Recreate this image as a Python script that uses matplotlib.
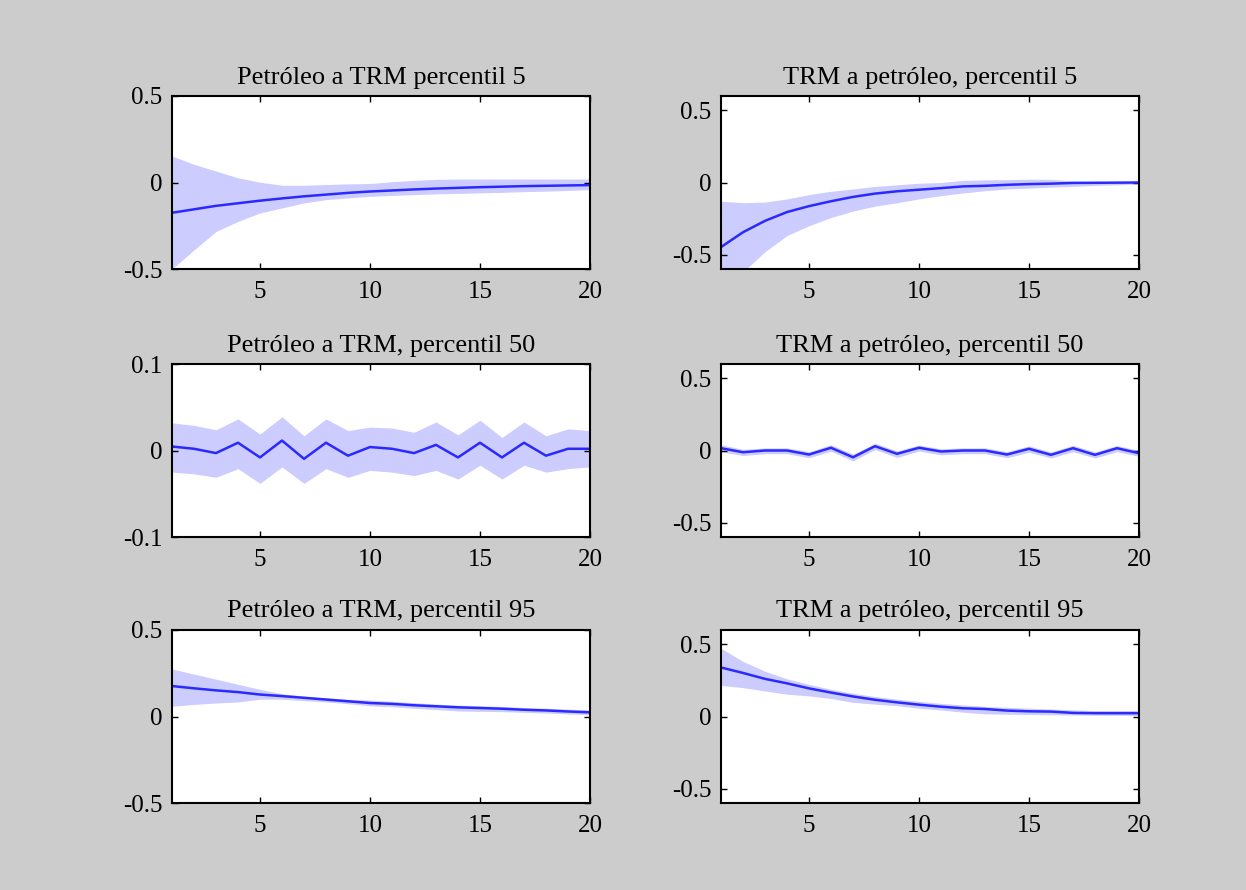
import numpy as np
import matplotlib
matplotlib.use("Agg")
import matplotlib.pyplot as plt

plt.rcParams['font.family'] = ['Liberation Serif', 'DejaVu Serif']

horizon = list(range(1, 21))

titles = [
    "Petróleo a TRM percentil 5",
    "TRM a petróleo, percentil 5",
    "Petróleo a TRM, percentil 50",
    "TRM a petróleo, percentil 50",
    "Petróleo a TRM, percentil 95",
    "TRM a petróleo, percentil 95",
]

# petroleo -> TRM, percentil 5
p5_oil_mid = [-0.175, -0.155, -0.135, -0.12, -0.105, -0.092, -0.08, -0.07, -0.06, -0.052,
              -0.046, -0.04, -0.035, -0.031, -0.027, -0.024, -0.021, -0.019, -0.017, -0.015]
p5_oil_up = [0.153, 0.105, 0.066, 0.027, 0.002, -0.016, -0.016, -0.012, -0.008, -0.006,
             0.005, 0.012, 0.018, 0.02, 0.02, 0.02, 0.02, 0.02, 0.02, 0.02]
p5_oil_lo = [-0.5, -0.39, -0.283, -0.225, -0.176, -0.147, -0.118, -0.099, -0.089, -0.08,
             -0.075, -0.07, -0.066, -0.063, -0.06, -0.057, -0.053, -0.05, -0.046, -0.041]

# TRM -> petroleo, percentil 5
p5_trm_mid = [-0.448, -0.345, -0.266, -0.205, -0.164, -0.13, -0.10, -0.077, -0.061, -0.05,
              -0.039, -0.027, -0.023, -0.016, -0.011, -0.008, -0.003, -0.002, -0.001, 0.0]
p5_trm_up = [-0.13, -0.14, -0.136, -0.114, -0.084, -0.061, -0.045, -0.027, -0.016, -0.005,
             0.0, 0.015, 0.018, 0.02, 0.023, 0.022, 0.01, 0.008, 0.005, 0.005]
p5_trm_lo = [-0.85, -0.62, -0.48, -0.368, -0.30, -0.243, -0.198, -0.164, -0.141, -0.114,
             -0.091, -0.073, -0.057, -0.045, -0.039, -0.032, -0.027, -0.02, -0.016, -0.011]

# petroleo -> TRM, percentil 50
p50_oil_mid = [0.0046, 0.002, -0.003, 0.009, -0.008, 0.0115, -0.0096, 0.009, -0.006, 0.004,
               0.002, -0.003, 0.0065, -0.008, 0.009, -0.008, 0.009, -0.006, 0.002, 0.002]
p50_oil_up = [0.032, 0.029, 0.024, 0.0365, 0.019, 0.039, 0.017, 0.0365, 0.023, 0.027,
              0.026, 0.021, 0.033, 0.018, 0.035, 0.015, 0.033, 0.017, 0.025, 0.023]
p50_oil_lo = [-0.025, -0.027, -0.031, -0.021, -0.038, -0.019, -0.038, -0.021, -0.031, -0.023,
              -0.025, -0.029, -0.023, -0.033, -0.017, -0.033, -0.017, -0.025, -0.021, -0.019]

# TRM -> petroleo, percentil 50
p50_trm_mid = [0.016, -0.012, 0.0, 0.0, -0.028, 0.019, -0.047, 0.03, -0.023, 0.019,
               -0.007, 0.0, 0.0, -0.028, 0.012, -0.03, 0.016, -0.03, 0.016, -0.019]
p50_trm_up = [0.04, 0.008, 0.018, 0.018, -0.008, 0.04, -0.025, 0.05, -0.003, 0.038,
              0.012, 0.018, 0.018, -0.008, 0.032, -0.01, 0.036, -0.01, 0.035, 0.0]
p50_trm_lo = [-0.008, -0.035, -0.022, -0.022, -0.05, -0.005, -0.072, 0.006, -0.048, -0.004,
              -0.03, -0.022, -0.022, -0.05, -0.012, -0.052, -0.008, -0.052, -0.008, -0.04]

# petroleo -> TRM, percentil 95
p95_oil_mid = [0.176, 0.163, 0.151, 0.141, 0.127, 0.118, 0.108, 0.098, 0.088, 0.078,
               0.073, 0.065, 0.059, 0.053, 0.049, 0.045, 0.039, 0.035, 0.029, 0.024]
p95_oil_up = [0.275, 0.245, 0.216, 0.186, 0.157, 0.131, 0.118, 0.108, 0.10, 0.095,
              0.088, 0.08, 0.072, 0.066, 0.062, 0.058, 0.052, 0.048, 0.043, 0.038]
p95_oil_lo = [0.059, 0.07, 0.078, 0.084, 0.1, 0.1, 0.092, 0.084, 0.074, 0.062,
              0.056, 0.048, 0.04, 0.032, 0.03, 0.028, 0.024, 0.02, 0.015, 0.01]

# TRM -> petroleo, percentil 95
p95_trm_mid = [0.34, 0.302, 0.261, 0.23, 0.195, 0.166, 0.139, 0.116, 0.098, 0.082,
               0.068, 0.057, 0.052, 0.041, 0.036, 0.034, 0.025, 0.023, 0.023, 0.023]
p95_trm_up = [0.473, 0.382, 0.314, 0.261, 0.223, 0.189, 0.161, 0.139, 0.12, 0.105,
              0.091, 0.08, 0.07, 0.064, 0.058, 0.052, 0.046, 0.041, 0.041, 0.041]
p95_trm_lo = [0.216, 0.2, 0.177, 0.155, 0.143, 0.125, 0.098, 0.086, 0.075, 0.057,
              0.045, 0.03, 0.018, 0.016, 0.014, 0.012, 0.01, 0.009, 0.008, 0.007]

series = [
    (p5_oil_mid, p5_oil_up, p5_oil_lo),
    (p5_trm_mid, p5_trm_up, p5_trm_lo),
    (p50_oil_mid, p50_oil_up, p50_oil_lo),
    (p50_trm_mid, p50_trm_up, p50_trm_lo),
    (p95_oil_mid, p95_oil_up, p95_oil_lo),
    (p95_trm_mid, p95_trm_up, p95_trm_lo),
]

ylims = [(-0.5, 0.5), (-0.6, 0.6), (-0.1, 0.1), (-0.6, 0.6), (-0.5, 0.5), (-0.6, 0.6)]
yticks = [[-0.5, 0, 0.5], [-0.5, 0, 0.5], [-0.1, 0, 0.1],
          [-0.5, 0, 0.5], [-0.5, 0, 0.5], [-0.5, 0, 0.5]]

W, H = 1246, 890
fig = plt.figure(figsize=(W / 100, H / 100), dpi=100, facecolor='#cccccc')

lefts = [172, 721]
tops = [96, 364, 630]
ax_w = 418
ax_h = 173

for i in range(6):
    r, c = divmod(i, 2)
    ax = fig.add_axes([lefts[c] / W, 1 - (tops[r] + ax_h) / H, ax_w / W, ax_h / H])
    mid, up, lo = series[i]
    ax.fill_between(horizon, lo, up, color='#ccccff', linewidth=0)
    ax.plot(horizon, mid, color='#2a2aff', linewidth=1.8)
    ax.set_xlim(1, 20)
    ax.set_ylim(*ylims[i])
    ax.set_xticks([5, 10, 15, 20])
    ax.set_yticks(yticks[i])
    ax.set_yticklabels([('%g' % v) for v in yticks[i]])
    ax.tick_params(direction='in', top=True, right=True, length=4, width=1,
                   labelsize=18)
    ax.tick_params(axis='x', pad=9)
    ax.tick_params(axis='y', pad=7)
    for sp in ax.spines.values():
        sp.set_linewidth(1.5)
    ax.set_title(titles[i], fontsize=19, pad=9)

fig.savefig('out.png', dpi=100, facecolor=fig.get_facecolor())
